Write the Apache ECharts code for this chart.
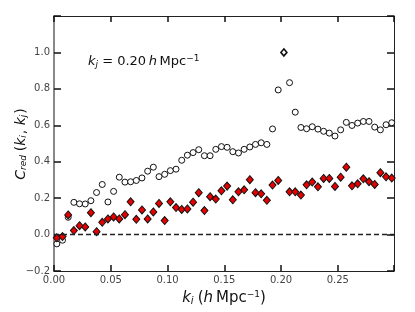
<!DOCTYPE html>
<html><head><meta charset="utf-8">
<script src="https://cdn.jsdelivr.net/npm/echarts@6/dist/echarts.min.js"></script>
<style>html,body{margin:0;padding:0;background:#fff}#c{width:415px;height:312px}</style>
</head><body><div id="c"></div>
<script>
const kValues = [0.0025,0.0075,0.0125,0.0175,0.0225,0.0275,0.0325,0.0375,0.0425,0.0475,
0.0525,0.0575,0.0625,0.0675,0.0725,0.0775,0.0825,0.0875,0.0925,0.0975,
0.1025,0.1075,0.1125,0.1175,0.1225,0.1275,0.1325,0.1375,0.1425,0.1475,
0.1525,0.1575,0.1625,0.1675,0.1725,0.1775,0.1825,0.1875,0.1925,0.1975,
0.2025,0.2075,0.2125,0.2175,0.2225,0.2275,0.2325,0.2375,0.2425,0.2475,
0.2525,0.2575,0.2625,0.2675,0.2725,0.2775,0.2825,0.2875,0.2925,0.2975];
const openCircle = [-0.051,-0.031,0.095,0.177,0.169,0.168,0.186,0.231,0.275,0.179,
0.237,0.315,0.288,0.290,0.297,0.311,0.348,0.370,0.318,0.331,
0.351,0.359,0.408,0.436,0.450,0.466,0.433,0.433,0.468,0.483,
0.479,0.455,0.448,0.468,0.481,0.495,0.504,0.495,0.580,0.794,
null,0.834,0.672,0.588,0.581,0.592,0.579,0.567,0.557,0.541,
0.575,0.616,0.599,0.612,0.621,0.621,0.590,0.575,0.603,0.614];
const redDiamond = [-0.018,-0.011,0.108,0.022,0.049,0.042,0.120,0.016,0.067,0.086,
0.097,0.086,0.109,0.180,0.084,0.135,0.086,0.124,0.171,0.077,
0.180,0.148,0.138,0.141,0.178,0.230,0.132,0.208,0.195,0.240,
0.266,0.191,0.235,0.246,0.301,0.230,0.224,0.188,0.272,0.297,
null,0.235,0.235,0.217,0.273,0.288,0.262,0.308,0.308,0.264,
0.315,0.370,0.268,0.279,0.306,0.290,0.275,0.340,0.317,0.310];
const diagonalPoint = [[0.2025, 1.0]];
const xTicks = [0, 0.05, 0.10, 0.15, 0.20, 0.25];
const yTicks = [-0.2, 0.0, 0.2, 0.4, 0.6, 0.8, 1.0];

const FONT = 'DejaVu Sans';
const pairs = (ys) => kValues.map((k, i) => [k, ys[i]]).filter(p => p[1] !== null);
const has = (arr, v) => arr.some(t => Math.abs(t - v) < 1e-9);

const chart = echarts.init(document.getElementById('c'));
const tickStyle = (len) => ({show: true, inside: true, length: len, lineStyle: {color: '#111', width: 1.5}});

chart.setOption({
  animation: false,
  backgroundColor: '#fff',
  grid: {left: 54, right: 21, top: 16, bottom: 41},
  xAxis: [
    {type: 'value', min: 0, max: 0.2995, interval: 0.05, position: 'bottom',
      splitLine: {show: false},
      axisLine: {show: true, onZero: false, lineStyle: {color: '#222', width: 1}},
      axisTick: tickStyle(6),
      axisLabel: {fontFamily: FONT, fontSize: 10, color: '#444', margin: 4,
        formatter: v => has(xTicks, v) ? v.toFixed(2) : ''}},
    {type: 'value', min: 0, max: 0.2995, interval: 0.05, position: 'top',
      splitLine: {show: false},
      axisLine: {show: true, onZero: false, lineStyle: {color: '#222', width: 1}},
      axisTick: tickStyle(6),
      axisLabel: {show: false}}
  ],
  yAxis: [
    {type: 'value', min: -0.2, max: 1.2, interval: 0.2, position: 'left',
      splitLine: {show: false},
      axisLine: {show: true, onZero: false, lineStyle: {color: '#888', width: 2}},
      axisTick: tickStyle(7),
      axisLabel: {fontFamily: FONT, fontSize: 10, color: '#444', margin: 4,
        formatter: v => has(yTicks, v) ? (v < 0 ? '\u2212' + Math.abs(v).toFixed(1) : v.toFixed(1)) : ''}},
    {type: 'value', min: -0.2, max: 1.2, interval: 0.2, position: 'right',
      splitLine: {show: false},
      axisLine: {show: true, onZero: false, lineStyle: {color: '#222', width: 1}},
      axisTick: tickStyle(7),
      axisLabel: {show: false}}
  ],
  series: [
    {type: 'scatter', data: pairs(openCircle), symbol: 'circle', symbolSize: 6,
      itemStyle: {color: '#fff', borderColor: '#111', borderWidth: 1, opacity: 1},
      markLine: {silent: true, symbol: 'none', label: {show: false},
        lineStyle: {color: '#222', type: [5, 3], width: 1.3},
        data: [{yAxis: 0}]}},
    {type: 'scatter', data: pairs(redDiamond), symbol: 'diamond', symbolSize: [7, 8],
      itemStyle: {color: '#e60000', borderColor: '#111', borderWidth: 1, opacity: 1}},
    {type: 'scatter', data: diagonalPoint, symbol: 'diamond', symbolSize: [6, 7],
      itemStyle: {color: '#fff', borderColor: '#111', borderWidth: 1.6, opacity: 1}}
  ],
  graphic: [
    {type: 'text', left: 88, top: 54, style: {
      text: '{i|k}{sub|j} = 0.20\u2009{i|h}\u2009Mpc{sup|\u22121}',
      fontFamily: FONT, fontSize: 13, fill: '#111',
      rich: {
        i: {fontFamily: FONT, fontSize: 13, fontStyle: 'italic', fill: '#111'},
        sub: {fontFamily: FONT, fontSize: 9, fontStyle: 'italic', fill: '#111', verticalAlign: 'bottom', padding: [6, 0, 0, 0]},
        sup: {fontFamily: FONT, fontSize: 9, fill: '#111', verticalAlign: 'top', padding: [0, 0, 6, 0]}
      }}},
    {type: 'text', x: 224, y: 298, style: {
      text: '{i|k}{sub|i}\u2009({i|h}\u2009Mpc{sup|\u22121})',
      fontFamily: FONT, fontSize: 15, fill: '#111', align: 'center', verticalAlign: 'middle',
      rich: {
        i: {fontFamily: FONT, fontSize: 15, fontStyle: 'italic', fill: '#111'},
        sub: {fontFamily: FONT, fontSize: 10, fontStyle: 'italic', fill: '#111', verticalAlign: 'bottom', padding: [6, 1, 0, 0]},
        sup: {fontFamily: FONT, fontSize: 9, fill: '#111', verticalAlign: 'top', padding: [0, 0, 6, 0]}
      }}},
    {type: 'text', x: 21, y: 144, rotation: Math.PI / 2, style: {
      text: '{i|C}{sub|red}\u2009({i|k}{sub|i}, {i|k}{sub|j})',
      fontFamily: FONT, fontSize: 14, fill: '#111', align: 'center', verticalAlign: 'middle',
      rich: {
        i: {fontFamily: FONT, fontSize: 14, fontStyle: 'italic', fill: '#111'},
        sub: {fontFamily: FONT, fontSize: 9, fontStyle: 'italic', fill: '#111', verticalAlign: 'bottom', padding: [6, 1, 0, 0]}
      }}}
  ]
});
</script></body></html>
